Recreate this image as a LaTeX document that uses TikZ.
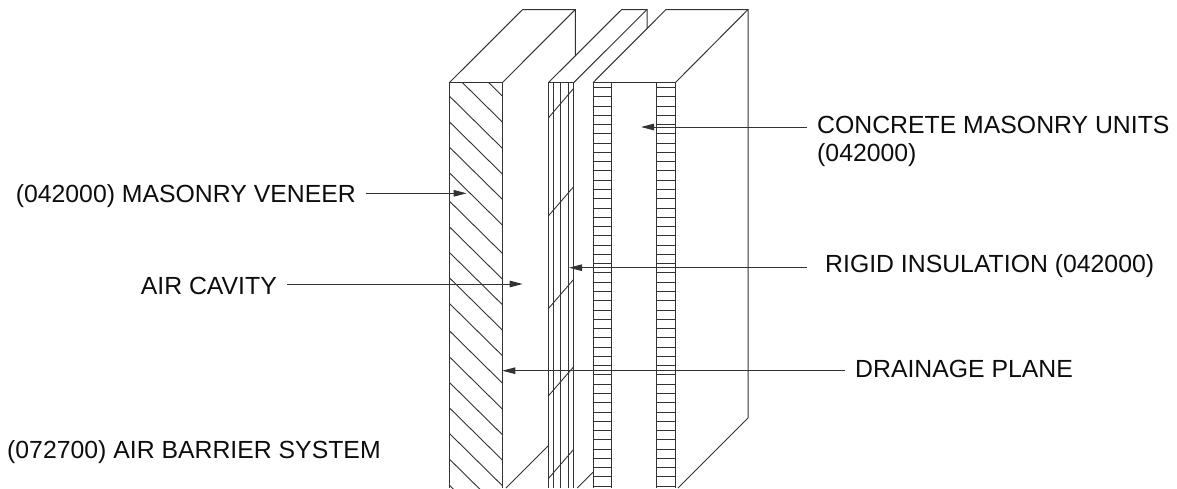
\documentclass[tikz,border=0pt]{standalone}
\usepackage{fontspec}
\setmainfont{Liberation Sans}
\usetikzlibrary{arrows.meta}
\tikzset{
  wall/.style={line width=1pt,draw=black!80},
  thinl/.style={line width=0.9pt,draw=black!80},
  leader/.style={line width=1pt,draw=black!80,-{Stealth[length=13pt,width=6.5pt,inset=0pt]}},
  lbl/.style={font=\fontsize{24.8}{28.4}\selectfont,inner xsep=10pt,inner ysep=0pt,align=left,text=black!95}
}
\begin{document}
\begin{tikzpicture}[x=1pt,y=-1pt]
\useasboundingbox (0,0) rectangle (1177,488);
% veneer
\draw[wall] (449.3,488) -- (449.3,82.7) -- (502.3,82.7) -- (502.3,488);
\draw[wall] (449.3,82.7) -- (522.7,9.5) -- (575.3,9.5) -- (575.3,56);
\draw[wall] (502.3,82.7) -- (575.3,9.5);
\begin{scope}
\clip (449.3,82.7) rectangle (502.3,488);
\foreach \s in {43.7,69.7,96,121.7,147,172.7,201,226.7,252.3,277.7,303.3,330.7,356.7,382.3,407.7,433.3,459,485}
  \draw[thinl] (449.3,\s) -- (502.3,\s+52.3);
\end{scope}
% insulation
\foreach \x in {548.3,553.7,560.3,568,573.7}
  \draw[thinl] (\x,82.7) -- (\x,488);
\draw[wall] (548.3,82.7) -- (573.7,82.7);
\draw[wall] (548.3,82.7) -- (621.7,9.5) -- (647,9.5) -- (647,28.5);
\draw[wall] (573.7,82.7) -- (647,9.5);
\foreach \a/\b in {118/88.3,216/186.7,308.7/279.3,396/366.7,478.7/449.3}
  \draw[thinl] (548.3,\a) -- (573.7,\b);
% CMU
\draw[wall] (593,488) -- (593,82.7) -- (675.3,82.7) -- (675.3,488);
\draw[wall] (611.7,82.7) -- (611.7,488);
\draw[wall] (656.7,82.7) -- (656.7,488);
\draw[wall] (593,82.7) -- (666,9.5) -- (748,9.5) -- (748,418) -- (678,488);
\draw[wall] (675.3,82.7) -- (748,9.5);
\foreach \i in {0,...,43}{
  \draw[thinl] (593,87.5+9.27*\i) -- (611.7,87.5+9.27*\i);
  \draw[thinl] (656.7,87.5+9.27*\i) -- (675.3,87.5+9.27*\i);
}
% back lines at bottom
\draw[thinl] (506,488) -- (548.3,445.7);
\draw[thinl] (577.3,488) -- (593,472.3);
% labels
\coordinate (tipcmu) at (641,127);
\coordinate (tipven) at (466.7,193.3);
\coordinate (tipair) at (522.7,284);
\coordinate (tiprig) at (569,267.7);
\coordinate (tipdra) at (502.3,370.7);
\node[lbl,anchor=base west] (cmu) at (807,161.7) {CONCRETE MASONRY UNITS\\(042000)};
\node[lbl,anchor=base east] (ven) at (366,202.7) {(042000) MASONRY VENEER};
\node[lbl,anchor=base east] (air) at (287,294) {AIR CAVITY};
\node[lbl,anchor=base west,inner xsep=18pt] (rig) at (807,272.7) {RIGID INSULATION (042000)};
\node[lbl,anchor=base west,inner xsep=10pt] (dra) at (845,377.7) {DRAINAGE PLANE};
\node[lbl,anchor=base west,inner xsep=0pt] (abs) at (7,458.3) {(072700) AIR BARRIER SYSTEM};
\draw[leader] (cmu.west |- tipcmu) -- (tipcmu);
\draw[leader] (ven.east |- tipven) -- (tipven);
\draw[leader] (air.east |- tipair) -- (tipair);
\draw[leader] (rig.west |- tiprig) -- (tiprig);
\draw[leader] (dra.west |- tipdra) -- (tipdra);
\end{tikzpicture}
\end{document}
